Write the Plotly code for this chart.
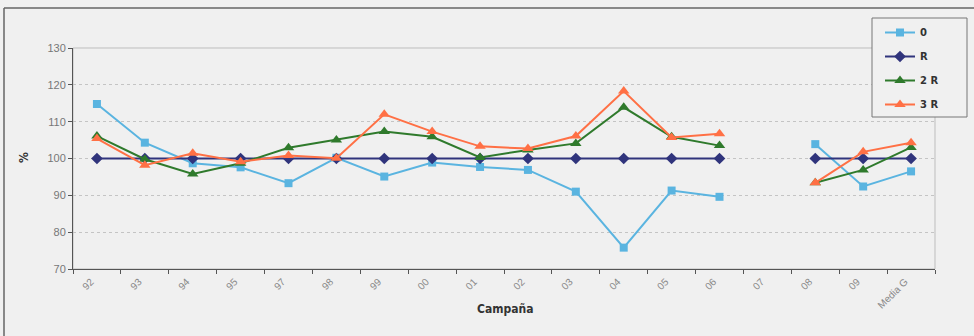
import plotly.graph_objects as go

categories = ["92", "93", "94", "95", "97", "98", "99", "00", "01", "02", "03", "04",
              "05", "06", "07", "08", "09", "Media G"]
s0 = [114.8, 104.3, 98.7, 97.6, 93.3, 100.2, 95.1, 98.9, 97.7, 96.9, 91.0, 75.8,
      91.3, 89.6, None, 103.9, 92.4, 96.5]
sR = [100, 100, 100, 100, 100, 100, 100, 100, 100, 100, 100, 100,
      100, 100, None, 100, 100, 100]
s2R = [106.1, 99.8, 95.8, 98.7, 102.9, 105.0, 107.3, 105.9, 100.3, 102.3, 104.1, 113.9,
       105.9, 103.5, None, 93.4, 96.9, 103.0]
s3R = [105.4, 98.2, 101.4, 99.1, 100.8, 100.1, 112.0, 107.3, 103.3, 102.7, 106.1, 118.3,
       105.7, 106.7, None, 93.4, 101.8, 104.3]
names = ["0", "R", "2 R", "3 R"]

BG = "#f0f0f0"
L, R, T, B = 73, 39, 48, 67
W, H = 974, 336
pw, ph = W - L - R, H - T - B

def px_x(x):
    return (x - L) / pw

def px_y(y):
    return (H - B - y) / ph

fig = go.Figure()
specs = [
    (s0, "#5ab4e0", "square", 8),
    (sR, "#30347c", "diamond", 9),
    (s2R, "#2f7a2c", "triangle-up", 10),
    (s3R, "#ff7045", "triangle-up", 10),
]
for i, (vals, col, sym, sz) in enumerate(specs):
    fig.add_trace(go.Scatter(
        x=categories, y=vals, name=names[i], mode="lines+markers",
        line=dict(color=col, width=2), connectgaps=False,
        marker=dict(symbol=sym, size=sz, color=col),
        legendgroup="g%d" % i,
    ))

fig.update_layout(
    width=W, height=H,
    margin=dict(l=L, r=R, t=T, b=B),
    paper_bgcolor=BG, plot_bgcolor=BG,
    font=dict(family="Liberation Sans, Arial, sans-serif", color="#666"),
    showlegend=True,
    legend=dict(
        x=px_x(880), y=px_y(18), xanchor="left", yanchor="top",
        bgcolor="rgba(0,0,0,0)", borderwidth=0,
        font=dict(family="DejaVu Sans, sans-serif", size=10, color="#333", weight="bold"),
        traceorder="grouped", tracegroupgap=5,
    ),
    xaxis=dict(
        type="category", categoryorder="array", categoryarray=categories,
        range=[-0.5, 17.5], tickangle=-45, tickson="boundaries",
        ticks="outside", ticklen=4, tickcolor="#555",
        showline=True, linecolor="#555", linewidth=1,
        showgrid=False, tickfont=dict(size=10, color="#888"),
        ticklabelshift=-6, ticklabelstandoff=2,
    ),
    yaxis=dict(
        range=[70, 130], dtick=10, tick0=70,
        ticks="outside", ticklen=4, tickcolor="#555",
        showline=True, linecolor="#555", linewidth=1,
        showgrid=True, gridcolor="#c4c4c4", griddash="dot", gridwidth=1,
        zeroline=False, tickfont=dict(size=11, color="#777"),
    ),
    shapes=[
        dict(type="rect", xref="paper", yref="paper", x0=0, x1=1, y0=0, y1=1,
             line=dict(color="#bdbdbd", width=1), layer="below"),
        dict(type="rect", xref="paper", yref="paper", x0=px_x(872), x1=px_x(967),
             y0=px_y(117), y1=px_y(18), line=dict(color="#777", width=1),
             fillcolor=BG, layer="above"),
        dict(type="line", xref="paper", yref="paper", x0=px_x(4), x1=px_x(4),
             y0=px_y(8), y1=px_y(340), line=dict(color="#666", width=1.5)),
        dict(type="line", xref="paper", yref="paper", x0=px_x(4), x1=px_x(980),
             y0=px_y(8), y1=px_y(8), line=dict(color="#666", width=1.5)),
    ],
    annotations=[
        dict(text="<b>%</b>", xref="paper", yref="paper", x=px_x(15), y=px_y(158),
             showarrow=False, textangle=-90, font=dict(size=12, color="#333",
             family="DejaVu Sans Condensed, sans-serif")),
        dict(text="<b>Campaña</b>", xref="paper", yref="paper", x=px_x(505), y=px_y(318),
             showarrow=False, font=dict(size=12, color="#333",
             family="DejaVu Sans Condensed, sans-serif")),
    ],
)

fig.write_html("out.html")
